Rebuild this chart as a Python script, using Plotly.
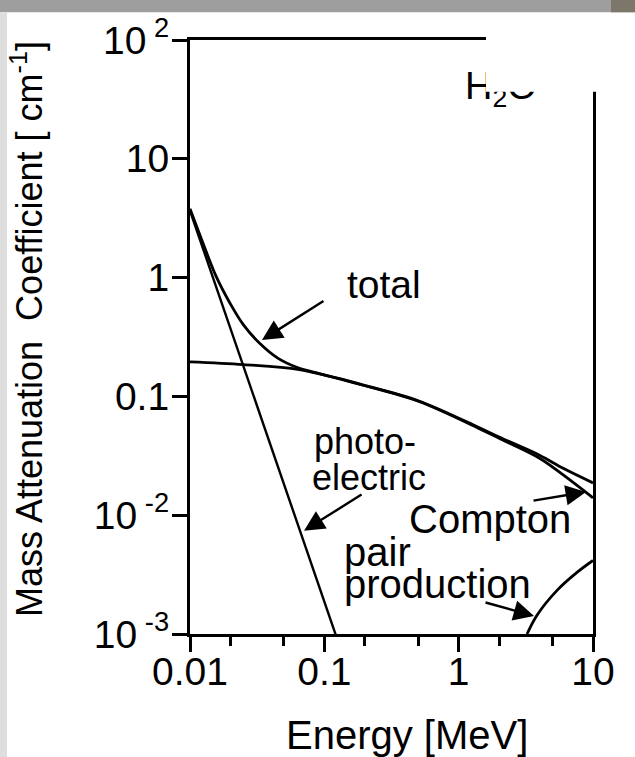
import plotly.graph_objects as go

# Photon interaction cross sections in water (mass attenuation, cm^-1)
photo_E = [0.01, 0.02, 0.05, 0.1, 0.13]
photo_mu = [3.65, 0.37, 0.018, 0.0019, 0.00079]

compton_E = [0.01, 0.025, 0.065, 0.185, 0.5, 1.4, 2.0, 4.0, 6.0, 10]
compton_mu = [0.195, 0.185, 0.168, 0.126, 0.091, 0.054, 0.0444, 0.0302, 0.0218, 0.014]

pair_E = [3.23, 3.83, 5.4, 7.6, 10]
pair_mu = [0.001, 0.00144, 0.00233, 0.0033, 0.00416]

total_E = [0.01, 0.0125, 0.0155, 0.02, 0.025, 0.033, 0.045, 0.063, 0.093, 0.185, 0.5,
           1.4, 2.0, 4.0, 6.0, 10]
total_mu = [3.8, 1.95, 1.05, 0.60, 0.40, 0.28, 0.21, 0.175, 0.155, 0.127, 0.092,
            0.055, 0.0455, 0.032, 0.0248, 0.0187]

x_tickvals = [0.01, 0.1, 1, 10]
x_ticktext = ["0.01", "0.1", "1", "10"]
x_minor = [0.02, 0.05, 0.2, 0.5, 2, 5]
y_tickvals = [100, 10, 1, 0.1, 0.01, 0.001]
y_ticktext = ["10<sup> 2</sup>", "10", "1", "0.1", "10<sup> -2</sup>", "10<sup> -3</sup>"]

FONT = "Liberation Sans, Arial, Helvetica, sans-serif"

fig = go.Figure()
fig.add_trace(go.Scatter(x=photo_E, y=photo_mu, mode="lines",
                         line=dict(color="black", width=2.4), name="photo-electric"))
fig.add_trace(go.Scatter(x=compton_E, y=compton_mu, mode="lines",
                         line=dict(color="black", width=2.8, shape="spline"), name="Compton"))
fig.add_trace(go.Scatter(x=pair_E, y=pair_mu, mode="lines",
                         line=dict(color="black", width=2.8, shape="spline"), name="pair production"))
fig.add_trace(go.Scatter(x=total_E, y=total_mu, mode="lines",
                         line=dict(color="black", width=2.8, shape="spline"), name="total"))
# material label
fig.add_trace(go.Scatter(x=[1.114], y=[38.5], mode="text", text=["H<sub>2</sub>O"],
                         textposition="middle right",
                         textfont=dict(family=FONT, size=38, color="black"),
                         hoverinfo="skip"))

axis_common = dict(showline=True, linecolor="black", linewidth=3.2, mirror=True,
                   ticks="outside", ticklen=15, tickwidth=3, tickcolor="black",
                   showgrid=False, zeroline=False,
                   tickfont=dict(family=FONT, size=39, color="black"))

fig.update_xaxes(type="log", range=[-2, 1], tickvals=x_tickvals, ticktext=x_ticktext,
                 ticklabelstandoff=-14,
                 minor=dict(tickvals=x_minor, ticks="outside", ticklen=9, tickwidth=2.5,
                            tickcolor="black", showgrid=False),
                 **axis_common)
fig.update_yaxes(type="log", range=[-3, 2], tickvals=y_tickvals, ticktext=y_ticktext,
                 ticklabelstandoff=-5,
                 **axis_common)

# text labels (annotation coordinates on log axes are log10 values)
labels = [
    ("total", -0.846, -0.057, 39),
    ("photo-", -1.092, -1.38, 36),
    ("electric", -1.107, -1.68, 36),
    ("Compton", -0.385, -2.03, 40),
    ("pair", -0.868, -2.31, 40),
    ("production", -0.868, -2.58, 40),
]
annotations = []
for txt, lx, ly, fs in labels:
    annotations.append(dict(text=txt, x=lx, y=ly, xref="x", yref="y", showarrow=False,
                            xanchor="left", yanchor="middle",
                            font=dict(family=FONT, size=fs, color="black")))

# arrows pointing at the curves: head position (log10) and tail offset (px)
arrows = [
    (-1.464, -0.525, 63, -40),
    (-1.151, -2.130, 59, -37),
    (0.948, -1.804, -54, 9),
    (0.561, -2.849, -50, -14),
]
for hx, hy, ax, ay in arrows:
    annotations.append(dict(text="", x=hx, y=hy, xref="x", yref="y", ax=ax, ay=ay,
                            showarrow=True, arrowhead=2, arrowsize=1.7, arrowwidth=2.4,
                            arrowcolor="black", standoff=0))

annotations.append(dict(text="Energy [MeV]", x=0.5385, y=-0.17, xref="paper", yref="paper",
                        showarrow=False, xanchor="center", yanchor="middle",
                        font=dict(family=FONT, size=40, color="black")))
annotations.append(dict(text="Mass Attenuation  Coefficient [ cm<sup>-1</sup>]",
                        x=-0.405, y=0.513, xref="paper", yref="paper", textangle=-90,
                        showarrow=False, xanchor="center", yanchor="middle",
                        font=dict(family=FONT, size=36, color="black")))

shapes = [
    # blank patch over the upper right corner of the frame
    dict(type="rect", xref="paper", yref="paper", x0=0.7345, x1=1.2, y0=0.913, y1=1.043,
         fillcolor="white", line=dict(width=0), layer="above"),
    # grey page edges
    dict(type="rect", xref="paper", yref="paper", x0=-0.48, x1=1.2, y0=1.0468, y1=1.07,
         fillcolor="#9e9e9e", line=dict(width=0), layer="above"),
    dict(type="rect", xref="paper", yref="paper", x0=1.0447, x1=1.2, y0=1.0468, y1=1.07,
         fillcolor="#7d776b", line=dict(width=0), layer="above"),
    dict(type="rect", xref="paper", yref="paper", x0=-0.48, x1=-0.4541, y0=-0.22, y1=1.0468,
         fillcolor="#dedede", line=dict(width=0), layer="above"),
]

fig.update_layout(width=635, height=757, margin=dict(l=190, r=42, t=36, b=123),
                  paper_bgcolor="white", plot_bgcolor="white", showlegend=False,
                  annotations=annotations, shapes=shapes)

fig.write_html("out.html")
